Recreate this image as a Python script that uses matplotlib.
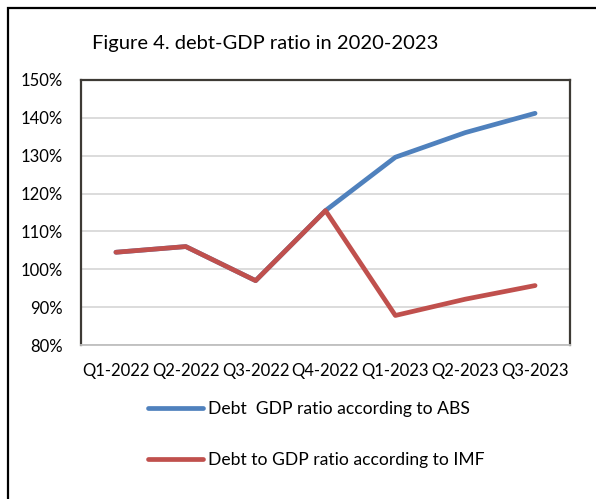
import matplotlib
matplotlib.use("Agg")
import matplotlib.pyplot as plt
from matplotlib.patches import Rectangle
from matplotlib.ticker import PercentFormatter

plt.rcParams['font.family'] = ['Lato', 'DejaVu Sans']

quarters = ["Q1-2022", "Q2-2022", "Q3-2022", "Q4-2022", "Q1-2023", "Q2-2023", "Q3-2023"]
abs_ratio = [104.5, 106.0, 97.0, 115.5, 129.6, 136.1, 141.2]
imf_ratio = [104.5, 106.0, 97.0, 115.5, 87.8, 92.1, 95.7]

W, H = 596, 499
fig = plt.figure(figsize=(W / 100, H / 100), dpi=100)

# outer frame (only top and left edges fall inside the image)
fig.patches.append(Rectangle((8 / W, -0.1), 1.2, 1 - 8 / H + 0.1, transform=fig.transFigure,
                             fill=False, edgecolor='black', linewidth=1.6))

ax = fig.add_axes([81 / W, 1 - 345 / H, (570 - 81) / W, (345 - 80) / H])
x = range(len(quarters))
ax.plot(x, abs_ratio, color='#4f81bd', linewidth=3.4, solid_capstyle='round',
        label="Debt  GDP ratio according to ABS")
ax.plot(x, imf_ratio, color='#c0504d', linewidth=3.4, solid_capstyle='round',
        label="Debt to GDP ratio according to IMF")

ax.set_xlim(-0.5, len(quarters) - 0.5)
ax.set_ylim(80, 150)
ax.set_yticks(range(80, 151, 10))
ax.yaxis.set_major_formatter(PercentFormatter(decimals=0))
ax.set_xticks(list(x))
ax.set_xticklabels(quarters)
ax.tick_params(length=0, labelsize=12, colors='black')
ax.tick_params(axis='y', pad=13)
ax.tick_params(axis='x', pad=13)
ax.grid(axis='y', color='#d9d9d9', linewidth=1.3)
ax.set_axisbelow(True)
for side in ['left', 'top', 'right']:
    ax.spines[side].set_color('#3d3a35')
    ax.spines[side].set_linewidth(1.6)
ax.spines['bottom'].set_color('#bfbfbf')
ax.spines['bottom'].set_linewidth(1.3)

fig.text(92 / W, 1 - 44 / H, "Figure 4. debt-GDP ratio in 2020-2023", fontsize=14.5,
         va='center', ha='left')

handles, labels = ax.get_legend_handles_labels()
fig.legend(handles, labels, loc='upper left', bbox_to_anchor=(148 / W, 1 - 401 / H),
           frameon=False, fontsize=12.6, handlelength=3.15, handletextpad=0.3,
           labelspacing=2.0, borderpad=0, borderaxespad=0)

fig.savefig("out.png", dpi=100)
